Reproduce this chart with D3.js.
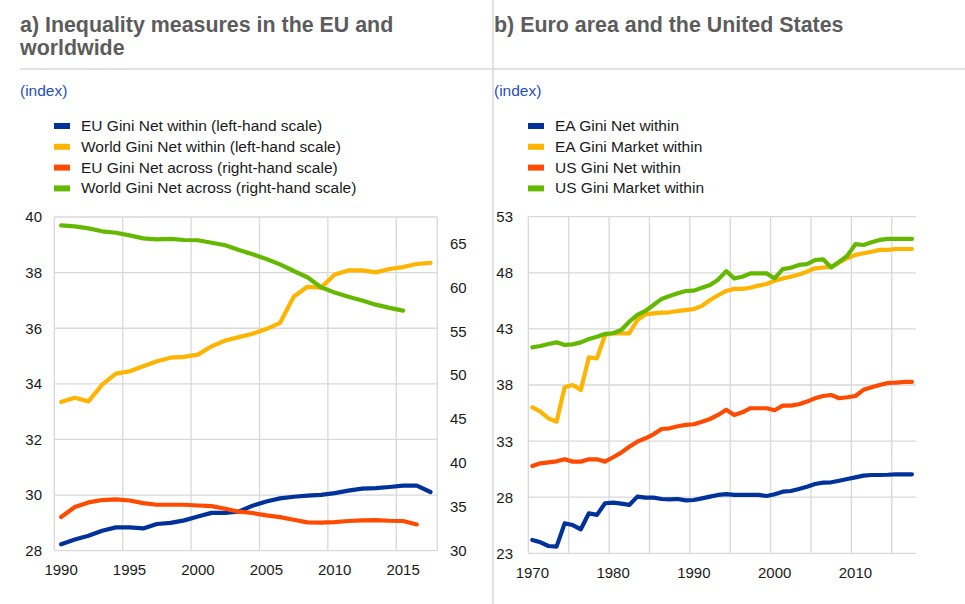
<!DOCTYPE html>
<html>
<head>
<meta charset="utf-8">
<script src="https://cdn.jsdelivr.net/npm/d3@7"></script>
<style>
  html, body { margin: 0; padding: 0; background: #fff; }
  svg { display: block; font-family: "Liberation Sans", Arial, sans-serif; }
</style>
</head>
<body>
<svg id="chart" width="965" height="604"></svg>
<script>
// ---------- Panel a) data ----------
const yearsA = d3.range(1990, 2018);
const xTickLabelsA = [1990, 1995, 2000, 2005, 2010, 2015];
const leftTicksA = [28, 30, 32, 34, 36, 38, 40];
const rightTicksA = [30, 35, 40, 45, 50, 55, 60, 65];

const euNetWithin = [28.23, 28.4, 28.54, 28.72, 28.84, 28.84, 28.8, 28.96, 29.0, 29.09,
  29.23, 29.36, 29.36, 29.41, 29.62, 29.77, 29.88, 29.94, 29.98, 30.01,
  30.07, 30.16, 30.23, 30.25, 30.29, 30.34, 30.34, 30.11];
const worldNetWithin = [33.35, 33.5, 33.37, 33.97, 34.37, 34.45, 34.63, 34.81, 34.94, 34.97,
  35.05, 35.35, 35.56, 35.68, 35.8, 35.97, 36.19, 37.13, 37.49, 37.46,
  37.93, 38.08, 38.08, 38.01, 38.13, 38.2, 38.31, 38.35];
const euNetAcross = [33.83, 34.97, 35.5, 35.77, 35.84, 35.72, 35.42, 35.23, 35.23, 35.23,
  35.15, 35.08, 34.78, 34.44, 34.29, 34.02, 33.83, 33.53, 33.22, 33.19,
  33.26, 33.38, 33.45, 33.49, 33.41, 33.38, 32.99, null];
const worldNetAcross = [67.05, 66.94, 66.71, 66.37, 66.21, 65.91, 65.57, 65.46, 65.5, 65.38,
  65.35, 65.07, 64.78, 64.24, 63.75, 63.22, 62.61, 61.85, 61.14, 60.0,
  59.39, 58.93, 58.48, 58.02, 57.65, 57.34, null, null];

const seriesNamesA = [
  "EU Gini Net within (left-hand scale)",
  "World Gini Net within (left-hand scale)",
  "EU Gini Net across (right-hand scale)",
  "World Gini Net across (right-hand scale)"
];

// ---------- Panel b) data ----------
const yearsB = d3.range(1970, 2018);
const xTickLabelsB = [1970, 1980, 1990, 2000, 2010];
const yTicksB = [23, 28, 33, 38, 43, 48, 53];

const eaNetWithin = [24.19, 23.98, 23.65, 23.59, 25.67, 25.52, 25.14, 26.57, 26.42, 27.46,
  27.52, 27.43, 27.31, 28.05, 27.96, 27.96, 27.84, 27.81, 27.84, 27.72,
  27.75, 27.9, 28.05, 28.2, 28.28, 28.2, 28.2, 28.2, 28.2, 28.11,
  28.26, 28.49, 28.55, 28.73, 28.94, 29.18, 29.3, 29.33, 29.47, 29.62,
  29.77, 29.92, 29.98, 29.98, 30.0, 30.04, 30.04, 30.04];
const eaMarketWithin = [36.01, 35.62, 35.03, 34.73, 37.8, 38.0, 37.55, 40.47, 40.38, 42.46,
  42.61, 42.61, 42.61, 43.79, 44.3, 44.39, 44.45, 44.48, 44.6, 44.68,
  44.77, 45.05, 45.58, 46.0, 46.38, 46.57, 46.57, 46.67, 46.86, 47.0,
  47.3, 47.5, 47.65, 47.85, 48.1, 48.4, 48.47, 48.53, 48.93, 49.3,
  49.6, 49.74, 49.88, 50.04, 50.04, 50.12, 50.12, 50.12];
const usNetWithin = [30.78, 31.02, 31.11, 31.2, 31.38, 31.17, 31.17, 31.38, 31.38, 31.17,
  31.56, 31.97, 32.5, 32.95, 33.25, 33.6, 34.08, 34.14, 34.32, 34.44,
  34.5, 34.73, 34.97, 35.33, 35.8, 35.33, 35.57, 35.93, 35.93, 35.93,
  35.75, 36.16, 36.16, 36.28, 36.52, 36.82, 37.02, 37.11, 36.82, 36.91,
  37.02, 37.57, 37.8, 38.0, 38.18, 38.21, 38.27, 38.27];
const usMarketWithin = [41.36, 41.48, 41.65, 41.8, 41.57, 41.62, 41.8, 42.1, 42.3, 42.55,
  42.61, 42.9, 43.64, 44.24, 44.6, 45.13, 45.67, 45.93, 46.17, 46.38,
  46.41, 46.67, 46.92, 47.39, 48.15, 47.5, 47.65, 47.95, 47.95, 47.95,
  47.5, 48.33, 48.45, 48.7, 48.78, 49.14, 49.2, 48.47, 48.98, 49.52,
  50.56, 50.48, 50.72, 50.93, 51.02, 51.02, 51.02, 51.02];

const seriesNamesB = [
  "EA Gini Net within",
  "EA Gini Market within",
  "US Gini Net within",
  "US Gini Market within"
];

// ---------- Styles ----------
const colors = ["#003299", "#ffb400", "#ff4b00", "#65b800"];
const gridColor = "#d9d9d9";
const textColor = "#1a1a1a";
const titleColor = "#5c5c5c";
const indexColor = "#1f4eb4";

const svg = d3.select("#chart");

// ---------- Header decorations ----------
svg.append("line").attr("x1", 20).attr("x2", 965).attr("y1", 69).attr("y2", 69)
  .attr("stroke", gridColor).attr("stroke-width", 1.5);
svg.append("line").attr("x1", 493).attr("x2", 493).attr("y1", 0).attr("y2", 604)
  .attr("stroke", gridColor).attr("stroke-width", 1.5);

function title(x, lines) {
  const t = svg.append("text").attr("x", x).attr("y", 32)
    .attr("font-size", 21.4).attr("font-weight", "bold").attr("fill", titleColor);
  lines.forEach((l, i) => t.append("tspan").attr("x", x).attr("dy", i === 0 ? 0 : 23).text(l));
}
title(20, ["a) Inequality measures in the EU and", "worldwide"]);
title(494, ["b) Euro area and the United States"]);

svg.append("text").attr("x", 20).attr("y", 96).attr("font-size", 15.5).attr("fill", indexColor).text("(index)");
svg.append("text").attr("x", 494).attr("y", 96).attr("font-size", 15.5).attr("fill", indexColor).text("(index)");

function legend(x, names) {
  names.forEach((n, i) => {
    const y = 126 + i * 20.8;
    svg.append("rect").attr("x", x).attr("y", y - 3).attr("width", 16).attr("height", 6).attr("fill", colors[i]);
    svg.append("text").attr("x", x + 27).attr("y", y + 5).attr("font-size", 15.5).attr("fill", textColor).text(n);
  });
}
legend(54, seriesNamesA);
legend(528, seriesNamesB);

const lineGen = (x, y) => d3.line()
  .defined(d => d.v != null)
  .x(d => x(d.year) + x.bandwidth() / 2)
  .y(d => y(d.v));

// ---------- Panel a ----------
{
  const x = d3.scaleBand().domain(yearsA).range([54.3, 437.3]).padding(0);
  const yL = d3.scaleLinear().domain([28, 40]).range([550.7, 217]);
  const yR = d3.scaleLinear().domain([30, 68]).range([550.7, 217]);
  const g = svg.append("g");

  g.selectAll(".hg").data(leftTicksA).join("line")
    .attr("x1", x.range()[0]).attr("x2", x.range()[1])
    .attr("y1", d => yL(d)).attr("y2", d => yL(d))
    .attr("stroke", gridColor).attr("stroke-width", 1.3);
  const vIdx = yearsA.filter((d, i) => i > 0 && i % 5 === 0);
  g.selectAll(".vg").data(vIdx).join("line")
    .attr("x1", d => x(d)).attr("x2", d => x(d))
    .attr("y1", yL(40)).attr("y2", yL(28))
    .attr("stroke", gridColor).attr("stroke-width", 1.3);
  [x.range()[0], x.range()[1]].forEach(xx => {
    g.append("line").attr("x1", xx).attr("x2", xx).attr("y1", yL(40)).attr("y2", yL(28))
      .attr("stroke", gridColor).attr("stroke-width", 1.3);
  });

  g.selectAll(".yl").data(leftTicksA).join("text")
    .attr("x", 42).attr("y", d => yL(d)).attr("dy", "0.36em").attr("text-anchor", "end")
    .attr("font-size", 15).attr("fill", textColor).text(d => d);
  g.selectAll(".yr").data(rightTicksA).join("text")
    .attr("x", 450).attr("y", d => yR(d)).attr("dy", "0.36em").attr("text-anchor", "start")
    .attr("font-size", 15).attr("fill", textColor).text(d => d);
  g.selectAll(".xl").data(xTickLabelsA).join("text")
    .attr("x", d => x(d) + x.bandwidth() / 2).attr("y", 575).attr("text-anchor", "middle")
    .attr("font-size", 15).attr("fill", textColor).text(d => d);

  const sA = [
    { vals: euNetWithin, y: yL },
    { vals: worldNetWithin, y: yL },
    { vals: euNetAcross, y: yR },
    { vals: worldNetAcross, y: yR }
  ];
  sA.forEach((s, i) => {
    const data = yearsA.map((yr, j) => ({ year: yr, v: s.vals[j] }));
    g.append("path").datum(data).attr("d", lineGen(x, s.y))
      .attr("fill", "none").attr("stroke", colors[i]).attr("stroke-width", 4.2)
      .attr("stroke-linejoin", "round").attr("stroke-linecap", "round");
  });
}

// ---------- Panel b ----------
{
  const x = d3.scaleBand().domain(yearsB).range([528.3, 916]).padding(0);
  const y = d3.scaleLinear().domain([23, 53]).range([553.3, 216.7]);
  const g = svg.append("g");

  g.selectAll(".hg").data(yTicksB).join("line")
    .attr("x1", x.range()[0]).attr("x2", x.range()[1])
    .attr("y1", d => y(d)).attr("y2", d => y(d))
    .attr("stroke", gridColor).attr("stroke-width", 1.3);
  const vIdx = yearsB.filter((d, i) => i > 0 && i % 5 === 0);
  g.selectAll(".vg").data(vIdx).join("line")
    .attr("x1", d => x(d)).attr("x2", d => x(d))
    .attr("y1", y(53)).attr("y2", y(23))
    .attr("stroke", gridColor).attr("stroke-width", 1.3);
  g.append("line").attr("x1", x.range()[0]).attr("x2", x.range()[0]).attr("y1", y(53)).attr("y2", y(23))
    .attr("stroke", gridColor).attr("stroke-width", 1.3);

  g.selectAll(".yl").data(yTicksB).join("text")
    .attr("x", 513).attr("y", d => y(d)).attr("dy", "0.36em").attr("text-anchor", "end")
    .attr("font-size", 15).attr("fill", textColor).text(d => d);
  g.selectAll(".xl").data(xTickLabelsB).join("text")
    .attr("x", d => x(d) + x.bandwidth() / 2).attr("y", 578).attr("text-anchor", "middle")
    .attr("font-size", 15).attr("fill", textColor).text(d => d);

  [eaNetWithin, eaMarketWithin, usNetWithin, usMarketWithin].forEach((vals, i) => {
    const data = yearsB.map((yr, j) => ({ year: yr, v: vals[j] }));
    g.append("path").datum(data).attr("d", lineGen(x, y))
      .attr("fill", "none").attr("stroke", colors[i]).attr("stroke-width", 4.2)
      .attr("stroke-linejoin", "round").attr("stroke-linecap", "round");
  });
}
</script>
</body>
</html>
